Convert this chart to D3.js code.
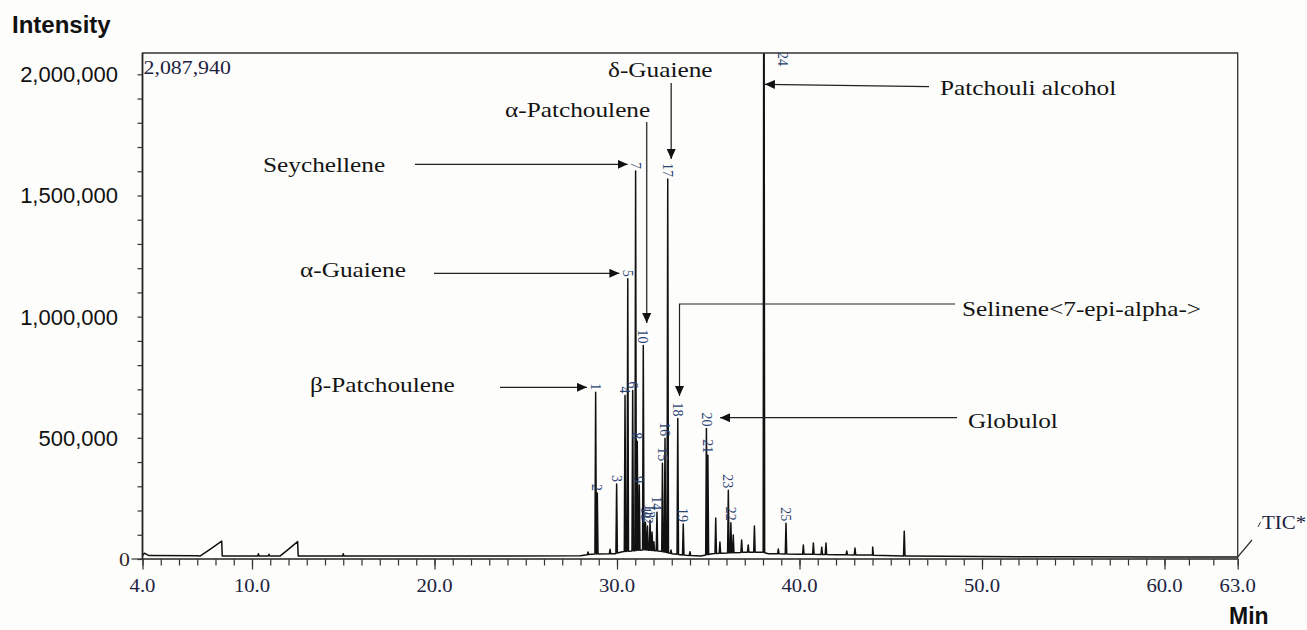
<!DOCTYPE html>
<html><head><meta charset="utf-8">
<script src="https://cdn.jsdelivr.net/npm/d3@7"></script>
<style>
html,body{margin:0;padding:0;background:#fdfdfb;}
svg{display:block;}
</style></head><body>
<svg id="chart" width="1307" height="630"></svg>
<script>
// ---------- data ----------
const peakLabels  = ["1","2","3","4","5","6","7","8","9","10","11","12","13","14","15","16","17","18","19","20","21","22","23","24","25"];
const peakTimes   = [28.83,28.92,29.98,30.44,30.59,30.86,31.02,31.11,31.22,31.44,31.56,31.67,31.81,32.19,32.49,32.63,32.78,33.33,33.63,34.90,34.98,36.24,36.10,38.05,39.26];
const peakHeights = [688000,272000,309000,675000,1156000,695000,1601000,486000,305000,881000,152000,136000,160000,193000,395000,498000,1568000,580000,144000,539000,428000,150000,284000,3200000,148000];

const minorPeakTimes   = [10.35,10.93,15.0,28.41,29.62,31.92,32.02,32.96,34.0,35.41,35.64,36.37,36.83,37.19,37.53,38.84,40.21,40.76,41.22,41.45,42.59,43.04,44.01,45.74];
const minorPeakHeights = [22000,20000,22000,29000,40000,111000,71000,37000,30000,169000,70000,99000,78000,58000,136000,41000,58000,66000,49000,66000,33000,45000,49000,115000];

const baseTimes  = [4.0,4.1,4.35,7.0,8.45,11.4,12.6,20,28,28.6,29.9,30.3,31.5,32.4,33.0,33.8,34.6,35.2,37.0,38.0,38.3,40,42,44,46,50,55,60,63];
const baseValues = [14000,24000,14000,13000,12000,12000,12000,12000,13000,20000,22000,30000,38000,32000,22000,15000,12000,22000,28000,28000,22000,20000,18000,16000,12000,10000,9000,8000,8000];

const humpTimes  = [7.15,7.7,8.34,8.37,11.53,11.99,12.5,12.53];
const humpValues = [12000,40000,74000,12000,12000,40000,72000,12000];

const xTickValues = [4,10,20,30,40,50,60,63];
const xTickLabels = ["4.0","10.0","20.0","30.0","40.0","50.0","60.0","63.0"];
const yTickValues = [500000,1000000,1500000,2000000];
const yMax = 2087940;

const compoundNames = ["Seychellene","α-Guaiene","β-Patchoulene","α-Patchoulene","δ-Guaiene","Patchouli alcohol","Selinene<7-epi-alpha->","Globulol"];

// ---------- layout ----------
const svg = d3.select("#chart");
const pL = 142.5, pR = 1237.7, pT = 53, pB = 559;
const x = d3.scaleLinear().domain([4,60,63]).range([pL,1164.5,pR]);
const y = d3.scaleLinear().domain([0,yMax]).range([pB,pT]);
const baseAt = d3.scaleLinear().domain(baseTimes).range(baseValues);
const SERIF = "'Liberation Serif','Times New Roman',serif";
const SANS = "'Liberation Sans',Arial,sans-serif";
const SX = 1.15;

svg.append("rect").attr("width",1307).attr("height",630).attr("fill","#fdfdfb");

const defs = svg.append("defs");
defs.append("clipPath").attr("id","plotclip").append("rect")
  .attr("x",pL).attr("y",pT).attr("width",pR-pL).attr("height",pB-pT+2);
defs.append("marker").attr("id","arr").attr("markerUnits","userSpaceOnUse")
  .attr("markerWidth",11).attr("markerHeight",9).attr("refX",10).attr("refY",4.5)
  .attr("orient","auto")
  .append("path").attr("d","M0,0 L10,4.5 L0,9 Z").attr("fill","#111");

// ---------- trace ----------
const peaks = peakTimes.map((t,i)=>({t, v:peakHeights[i], label:peakLabels[i]}))
  .concat(minorPeakTimes.map((t,i)=>({t, v:minorPeakHeights[i], label:""})));
const HW = 0.04;
let pts = [];
baseTimes.forEach((t,i)=>pts.push([t,baseValues[i]]));
humpTimes.forEach((t,i)=>pts.push([t,humpValues[i]]));
peaks.forEach(p=>{
  pts.push([p.t-HW, baseAt(p.t-HW)]);
  pts.push([p.t, p.v]);
  pts.push([p.t+HW, baseAt(p.t+HW)]);
});
pts.sort((a,b)=>a[0]-b[0]);
const line = d3.line().x(d=>x(d[0])).y(d=>y(d[1]));
svg.append("path").datum(pts).attr("clip-path","url(#plotclip)")
  .attr("d",line).attr("fill","none").attr("stroke","#111")
  .attr("stroke-width",1.5).attr("stroke-linejoin","round");

// ---------- frame ----------
svg.append("path").attr("d",`M${pL},${pB} L${pL},${pT} L${pR},${pT} L${pR},${pB}`)
  .attr("fill","none").attr("stroke","#333").attr("stroke-width",1.3);
svg.append("line").attr("x1",pL).attr("x2",pR).attr("y1",pB).attr("y2",pB)
  .attr("stroke","#222").attr("stroke-width",1.5);
svg.append("line").attr("x1",pL).attr("x2",pL).attr("y1",pT).attr("y2",pB)
  .attr("stroke","#222").attr("stroke-width",1.6);

// x axis ticks
const minorX = d3.range(4,61,1).concat([61,62,63]);
const xAxisMinor = d3.axisBottom(x).tickValues(minorX).tickSize(6.5).tickFormat("");
const gx = svg.append("g").attr("transform",`translate(0,${pB})`).call(xAxisMinor);
gx.select(".domain").remove();
gx.selectAll("line").attr("stroke","#333").attr("stroke-width",1.2);
const xAxisMajor = d3.axisBottom(x).tickValues(xTickValues).tickSize(10.5).tickFormat("");
const gx2 = svg.append("g").attr("transform",`translate(0,${pB})`).call(xAxisMajor);
gx2.select(".domain").remove();
gx2.selectAll("line").attr("stroke","#333").attr("stroke-width",1.2);

svg.selectAll("text.xl").data(xTickValues).join("text").attr("class","xl")
  .attr("transform",(d)=>`translate(${x(d)},592) scale(${SX},1)`)
  .attr("text-anchor","middle").attr("font-family",SERIF).attr("font-size",18)
  .attr("fill","#1c2240").text((d,i)=>xTickLabels[i]);

// y axis ticks
const yAxis = d3.axisLeft(y).tickValues(d3.range(0,yMax,100000)).tickSize(5).tickFormat("");
const gy = svg.append("g").attr("transform",`translate(${pL},0)`).call(yAxis);
gy.select(".domain").remove();
gy.selectAll("line").attr("stroke","#333").attr("stroke-width",1.2);
svg.append("line").attr("x1",pL-11).attr("x2",pL).attr("y1",y(0)).attr("y2",y(0))
  .attr("stroke","#333").attr("stroke-width",1.2);

svg.selectAll("text.yl").data(yTickValues).join("text").attr("class","yl")
  .attr("x",118).attr("y",d=>y(d)).attr("dy","0.36em").attr("text-anchor","end")
  .attr("font-family",SANS).attr("font-size",22).attr("fill","#111")
  .text(d=>d3.format(",")(d));
svg.append("text").attr("transform",`translate(130,${y(0)}) scale(${SX},1)`).attr("dy","0.35em")
  .attr("text-anchor","end").attr("font-family",SERIF).attr("font-size",19).attr("fill","#2a2a2a").text("0");

// axis titles
svg.append("text").attr("x",12).attr("y",33).attr("font-family",SANS).attr("font-weight","bold")
  .attr("font-size",24).attr("fill","#111").text("Intensity");
svg.append("text").attr("x",1229).attr("y",624).attr("font-family",SANS).attr("font-weight","bold")
  .attr("font-size",23).attr("fill","#111").text("Min");

// max value and TIC
svg.append("text").attr("transform",`translate(${pL+1},74) scale(${SX},1)`)
  .attr("font-family",SERIF).attr("font-size",19).attr("fill","#1c2240").text(d3.format(",")(yMax));
svg.append("line").attr("x1",pR).attr("y1",557).attr("x2",1252).attr("y2",540)
  .attr("stroke","#333").attr("stroke-width",1.2);
svg.append("line").attr("x1",1258).attr("y1",527).attr("x2",1260.5).attr("y2",522)
  .attr("stroke","#333").attr("stroke-width",1);
svg.append("text").attr("transform",`translate(1262,529) scale(1.1,1)`)
  .attr("font-family",SERIF).attr("font-size",19).attr("fill","#1c2240").text("TIC*");

// ---------- peak number labels ----------
const labeled = peaks.filter(p=>p.label!=="");
labeled.forEach(p=>{
  const off = p.v > yMax;
  const px = off ? x(p.t)+19 : x(p.t);
  const py = off ? pT-1 : y(p.v)-2;
  svg.append("text")
    .attr("transform",`translate(${px},${py}) rotate(90)`)
    .attr("text-anchor", off ? "start" : "end").attr("dy","0.35em")
    .attr("font-family",SERIF).attr("font-size",14).attr("fill","#2a4272")
    .text(p.label);
});

// ---------- compound annotations ----------
const P = {}; labeled.forEach(p=>P[p.label]=p);
const ann = [
  {name:compoundNames[0], tx:263, ty:172, path:[[415,164.3],[x(P["7"].t)-8,164.3]]},
  {name:compoundNames[1], tx:300, ty:277, path:[[434,273.3],[x(P["5"].t)-8.4,273.3]]},
  {name:compoundNames[2], tx:310, ty:392, path:[[500,387.3],[x(P["1"].t)-8.7,387.3]]},
  {name:compoundNames[3], tx:505, ty:117, path:[[646.7,122],[646.7,323]], grey:true},
  {name:compoundNames[4], tx:608, ty:77,  path:[[671.2,83],[671.2,159]], grey:true},
  {name:compoundNames[5], tx:940, ty:95,  path:[[929,86.7],[x(P["24"].t)+1,84.3]]},
  {name:compoundNames[6], tx:962, ty:316, path:[[955,304],[679.5,304],[679.5,396]]},
  {name:compoundNames[7], tx:968, ty:428, path:[[957,417.7],[720,417.7]]}
];
ann.forEach(a=>{
  svg.append("text").attr("transform",`translate(${a.tx},${a.ty}) scale(${SX},1)`)
    .attr("font-family",SERIF).attr("font-size",22).attr("fill","#141414").text(a.name);
  svg.append("path").attr("d",d3.line()(a.path)).attr("fill","none")
    .attr("stroke", a.grey ? "#444" : "#222").attr("stroke-width", a.grey ? 1.5 : 1.2)
    .attr("marker-end","url(#arr)");
});
</script>
</body></html>
